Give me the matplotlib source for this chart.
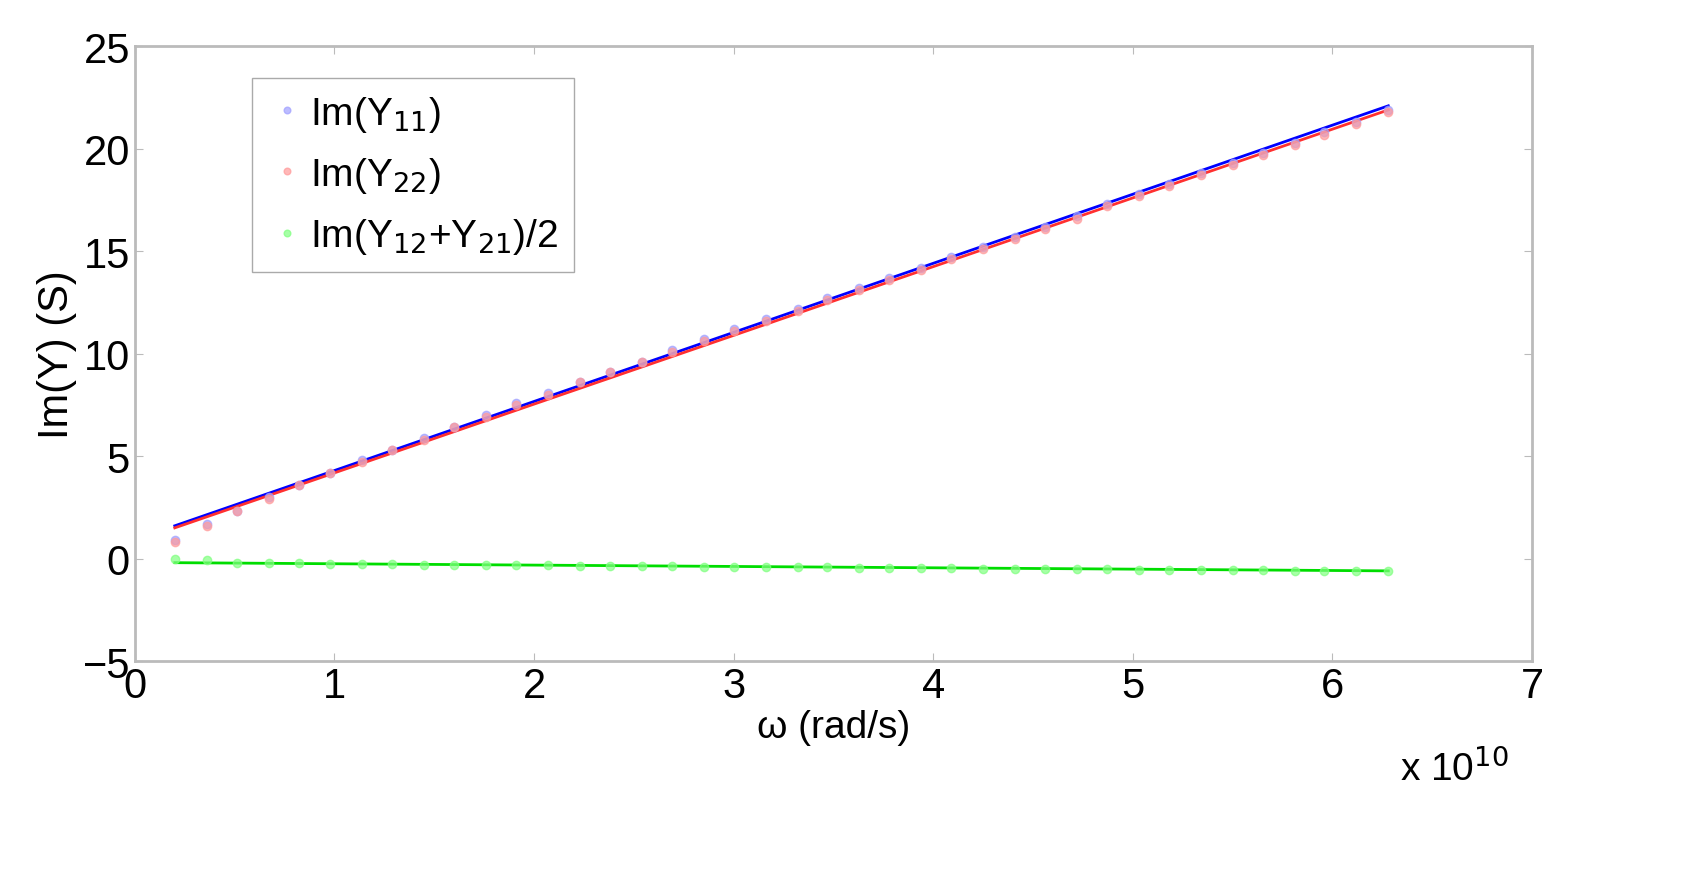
import matplotlib
matplotlib.use("Agg")
import matplotlib.pyplot as plt
import numpy as np

x_pts = [0.20,0.36,0.51,0.67,0.82,0.98,1.14,1.29,1.45,1.60,1.76,1.91,2.07,2.23,2.38,2.54,2.69,2.85,3.00,3.16,
         3.32,3.47,3.63,3.78,3.94,4.09,4.25,4.41,4.56,4.72,4.87,5.03,5.18,5.34,5.50,5.65,5.81,5.96,6.12,6.28]
y11_pts = [0.9,1.7,2.3,3.0,3.6,4.2,4.8,5.3,5.9,6.4,7.0,7.6,8.1,8.6,9.1,9.6,10.2,10.7,11.2,11.7,
           12.2,12.7,13.2,13.7,14.2,14.7,15.2,15.7,16.2,16.7,17.3,17.8,18.3,18.8,19.3,19.8,20.3,20.8,21.3,21.9]
y22_pts = [0.8,1.6,2.3,2.9,3.6,4.2,4.7,5.3,5.8,6.4,6.9,7.5,8.0,8.6,9.1,9.6,10.1,10.6,11.1,11.6,
           12.1,12.6,13.1,13.6,14.1,14.6,15.1,15.6,16.1,16.6,17.2,17.7,18.2,18.7,19.2,19.7,20.2,20.7,21.2,21.8]
y12_pts = [0.0,-0.05,-0.2,-0.2,-0.2,-0.25,-0.25,-0.25,-0.3,-0.3,-0.3,-0.3,-0.3,-0.35,-0.35,-0.35,-0.35,-0.4,-0.4,-0.4,
           -0.4,-0.4,-0.45,-0.45,-0.45,-0.45,-0.5,-0.5,-0.5,-0.5,-0.5,-0.55,-0.55,-0.55,-0.55,-0.55,-0.6,-0.6,-0.6,-0.6]
x_fit = [0.20, 6.28]
y11_fit = [1.6, 22.1]
y22_fit = [1.5, 21.9]
y12_fit = [-0.2, -0.6]

plt.rcParams['font.family'] = ['Liberation Sans', 'DejaVu Sans']
fig = plt.figure(figsize=(17.07, 8.78), dpi=100)
ax = fig.add_axes([0.079, 0.246, 0.8185, 0.7])
sc = 1e10
ax.plot(np.array(x_fit)*sc, y11_fit, color='#0000ff', lw=2)
ax.plot(np.array(x_fit)*sc, y22_fit, color='#ff3030', lw=2)
ax.plot(np.array(x_fit)*sc, y12_fit, color='#00dd00', lw=2)
ax.plot(np.array(x_pts)*sc, y11_pts, 'o', ls='none', color='#a0a0ff', ms=6, alpha=0.7, label='Im(Y$_{11}$)')
ax.plot(np.array(x_pts)*sc, y22_pts, 'o', ls='none', color='#ff9a9a', ms=6, alpha=0.7, label='Im(Y$_{22}$)')
ax.plot(np.array(x_pts)*sc, y12_pts, 'o', ls='none', color='#80ff80', ms=6, alpha=0.7, label='Im(Y$_{12}$+Y$_{21}$)/2')
ax.set_xlim(0, 7e10)
ax.set_ylim(-5, 25)
ax.set_xticks(np.arange(0, 8)*sc)
ax.set_xticklabels([str(i) for i in range(8)])
ax.set_yticks(range(-5, 26, 5))
ax.tick_params(labelsize=30, length=6, color='#bbbbbb', direction='in', top=True, right=True)
for s in ax.spines.values():
    s.set_color('#bbbbbb'); s.set_linewidth(2)
ax.set_xlabel('ω (rad/s)', fontsize=28, labelpad=2)
ax.set_ylabel('Im(Y) (S)', fontsize=30)
fig.text(0.82, 0.11, r'x 10$^{10}$', fontsize=28)
leg = ax.legend(loc='upper left', bbox_to_anchor=(0.07, 0.98), fontsize=28, markerscale=0.8,
                handletextpad=0.1, handlelength=1, fancybox=False, framealpha=1, borderpad=0.4, labelspacing=0.55)
leg.get_frame().set_edgecolor('#aaaaaa')
fig.savefig('out.png', dpi=100)
